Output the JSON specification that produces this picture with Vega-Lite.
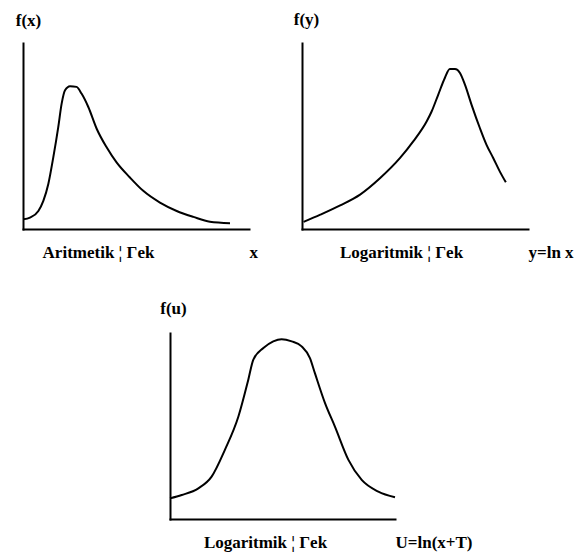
{
  "$schema": "https://vega.github.io/schema/vega-lite/v6.json",
  "background": "white",
  "padding": {"left": 15, "top": 10, "right": 5, "bottom": 5},
  "config": {
    "view": {"stroke": null},
    "font": "Liberation Serif",
    "axis": {
      "domainColor": "black",
      "domainWidth": 2,
      "domainCap": "square",
      "grid": false,
      "ticks": false,
      "titleFont": "Liberation Serif",
      "titleFontSize": 17,
      "titleFontWeight": "bold",
      "titleColor": "black",
      "labelFont": "Liberation Serif",
      "labelFontSize": 17,
      "labelFontWeight": "bold",
      "labelColor": "black",
      "labelOverlap": false,
      "labelBound": false,
      "labelFlush": false
    },
    "line": {"stroke": "black", "strokeWidth": 2, "interpolate": "monotone"}
  },
  "spacing": 39,
  "vconcat": [
    {
      "bounds": "flush",
      "spacing": 53,
      "hconcat": [
        {
          "width": 226,
          "height": 186,
          "data": {"values": [
            {"x": 0.15, "y": 5.2}, {"x": 3.1, "y": 6.1}, {"x": 6.8, "y": 9.7}, {"x": 9.0, "y": 15.1},
            {"x": 11.2, "y": 24.2}, {"x": 13.4, "y": 38.5}, {"x": 15.6, "y": 54.8}, {"x": 17.1, "y": 67.4},
            {"x": 18.6, "y": 74.6}, {"x": 20.8, "y": 76.8}, {"x": 23.7, "y": 76.4}, {"x": 25.9, "y": 72.8},
            {"x": 28.9, "y": 65.6}, {"x": 32.6, "y": 53.9}, {"x": 37.0, "y": 43.9}, {"x": 41.4, "y": 35.8},
            {"x": 47.3, "y": 27.7}, {"x": 53.2, "y": 20.5}, {"x": 60.6, "y": 14.2}, {"x": 68.0, "y": 9.7},
            {"x": 75.4, "y": 6.5}, {"x": 82.7, "y": 3.9}, {"x": 91.6, "y": 3.1}
          ]},
          "mark": {"type": "line"},
          "encoding": {
            "x": {"field": "x", "type": "quantitative",
              "scale": {"domain": [0, 100], "nice": false, "zero": false},
              "axis": {"title": "Aritmetik ¦ Γek", "titleX": 75, "titleY": 23, "titleAlign": "center", "titleBaseline": "middle",
                "values": [100], "labelExpr": "'x'", "labelAlign": "left", "labelBaseline": "middle", "labelPadding": 23, "labelDx": 3}},
            "y": {"field": "y", "type": "quantitative",
              "scale": {"domain": [0, 100], "nice": false, "zero": false},
              "axis": {"title": "f(x)", "titleAngle": 0, "titleX": 5, "titleY": -23, "titleAlign": "center", "titleBaseline": "middle", "labels": false}}
          }
        },
        {
          "width": 226,
          "height": 186,
          "data": {"values": [
            {"x": 0.7, "y": 3.8}, {"x": 8.1, "y": 7.7}, {"x": 16.9, "y": 12.7}, {"x": 25.7, "y": 18.5},
            {"x": 34.6, "y": 27.4}, {"x": 43.4, "y": 38.2}, {"x": 49.3, "y": 47.2}, {"x": 55.2, "y": 57.9},
            {"x": 57.4, "y": 63.3}, {"x": 60.3, "y": 72.3}, {"x": 63.2, "y": 81.2}, {"x": 65.4, "y": 86.0},
            {"x": 67.7, "y": 86.0}, {"x": 69.9, "y": 83.9}, {"x": 72.1, "y": 77.6}, {"x": 75.0, "y": 66.9},
            {"x": 78.7, "y": 54.3}, {"x": 81.6, "y": 45.4}, {"x": 84.6, "y": 38.2}, {"x": 87.5, "y": 31.0},
            {"x": 90.2, "y": 25.1}
          ]},
          "mark": {"type": "line"},
          "encoding": {
            "x": {"field": "x", "type": "quantitative",
              "scale": {"domain": [0, 100], "nice": false, "zero": false},
              "axis": {"title": "Logaritmik ¦ Γek", "titleX": 99, "titleY": 23, "titleAlign": "center", "titleBaseline": "middle",
                "values": [100], "labelExpr": "'y=ln x'", "labelAlign": "left", "labelBaseline": "middle", "labelPadding": 23, "labelDx": -3}},
            "y": {"field": "y", "type": "quantitative",
              "scale": {"domain": [0, 100], "nice": false, "zero": false},
              "axis": {"title": "f(y)", "titleAngle": 0, "titleX": 4, "titleY": -24, "titleAlign": "center", "titleBaseline": "middle", "labels": false}}
          }
        }
      ]
    },
    {
      "bounds": "flush",
      "spacing": 49,
      "hconcat": [
        {
          "width": 98,
          "height": 10,
          "data": {"values": []},
          "mark": {"type": "point", "opacity": 0},
          "encoding": {}
        },
        {
          "width": 225,
          "height": 186,
          "data": {"values": [
            {"x": 0, "y": 11.1}, {"x": 5.2, "y": 12.9}, {"x": 12.6, "y": 16.5}, {"x": 18.5, "y": 22.8},
            {"x": 24.4, "y": 37.2}, {"x": 30.4, "y": 55.1}, {"x": 34.8, "y": 74.9}, {"x": 37.0, "y": 85.6},
            {"x": 41.5, "y": 91.9}, {"x": 45.9, "y": 95.5}, {"x": 49.6, "y": 96.7}, {"x": 54.1, "y": 95.5},
            {"x": 58.5, "y": 92.8}, {"x": 62.2, "y": 86.5}, {"x": 64.4, "y": 78.4}, {"x": 68.9, "y": 62.3},
            {"x": 73.3, "y": 49.7}, {"x": 79.3, "y": 31.8}, {"x": 85.2, "y": 21.0}, {"x": 92.6, "y": 14.7},
            {"x": 100, "y": 11.7}
          ]},
          "mark": {"type": "line"},
          "encoding": {
            "x": {"field": "x", "type": "quantitative",
              "scale": {"domain": [0, 100], "nice": false, "zero": false},
              "axis": {"title": "Logaritmik ¦ Γek", "titleX": 95, "titleY": 23, "titleAlign": "center", "titleBaseline": "middle",
                "values": [100], "labelExpr": "'U=ln(x+T)'", "labelAlign": "left", "labelBaseline": "middle", "labelPadding": 23, "labelDx": 0}},
            "y": {"field": "y", "type": "quantitative",
              "scale": {"domain": [0, 100], "nice": false, "zero": false},
              "axis": {"title": "f(u)", "titleAngle": 0, "titleX": 3, "titleY": -25, "titleAlign": "center", "titleBaseline": "middle", "labels": false}}
          }
        }
      ]
    }
  ]
}
